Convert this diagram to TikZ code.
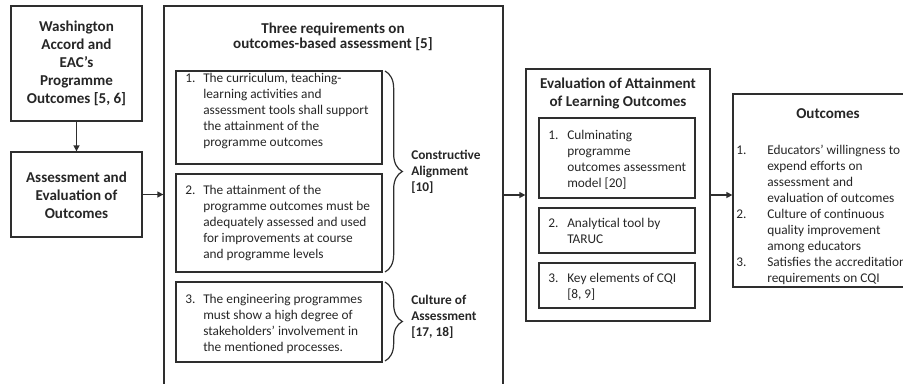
\documentclass[tikz,border=0pt]{standalone}
\usepackage{fontspec}
\setmainfont{Carlito}
\usetikzlibrary{arrows.meta,decorations.pathreplacing,fit}

\definecolor{ink}{gray}{0.15}
\definecolor{frame}{gray}{0.18}

% numbered list with a hanging indent: #1 = indent, #2 = rows "n. & text \\ & text ..."
\newcommand{\numlist}[2]{\begin{tabular}{@{}p{#1}@{}l@{}}#2\end{tabular}}
% stacked lines, centred or flush left
\newcommand{\clines}[1]{\begin{tabular}{@{}c@{}}#1\end{tabular}}
\newcommand{\llines}[1]{\begin{tabular}{@{}l@{}}#1\end{tabular}}

\tikzset{
  box/.style={draw=frame, line width=1pt, inner sep=0pt},
  body/.style={font=\fontsize{10}{12}\selectfont, text=ink, inner sep=0pt, anchor=north west},
  side/.style={font=\bfseries\fontsize{10}{12}\selectfont, text=ink, inner sep=0pt, anchor=north west},
  head/.style={font=\bfseries\fontsize{11.3}{13.5}\selectfont, text=ink, inner sep=0pt, anchor=north},
  flow/.style={draw=frame, line width=1.1pt, -{Triangle[length=4.5pt,width=4.5pt]}},
  curly/.style={draw=frame, line width=0.9pt, decorate, decoration={brace, amplitude=13pt}}
}

\begin{document}
\begin{tikzpicture}[x=0.75pt, y=-0.75pt]
\useasboundingbox (0,0) rectangle (903,383);
\clip (0,0) rectangle (903,383);

% left column
\node[box, fit={(11,6) (142,121)}] (wash) {};
\node[box, fit={(11,152) (142,237)}] (assess) {};
\node[head] (washT) at (76.5,19) {\clines{Washington\\Accord and\\EAC’s\\Programme\\Outcomes [5, 6]}};
\node[head] (assessT) at (76.5,169.4) {\clines{Assessment and\\Evaluation of\\Outcomes}};

% three requirements
\node[box, fit={(164,6) (503,400)}] (req) {};
\node[head, font=\bfseries\fontsize{11.3}{11.25}\selectfont] (reqT) at (333,22.5)
  {\clines{Three requirements on\\outcomes-based assessment [5]}};

\node[box, fit={(176,71) (382,164)}] (r1) {};
\node[box, fit={(176,174) (382,272)}] (r2) {};
\node[box, fit={(176,282) (382,362)}] (r3) {};

\node[body] (r1T) at (185,71) {\numlist{13.5pt}{1. & The curriculum, teaching-\\
  & learning activities and\\ & assessment tools shall support\\
  & the attainment of the\\ & programme outcomes}};
\node[body] (r2T) at (185,183) {\numlist{13.5pt}{2. & The attainment of the\\
  & programme outcomes must be\\ & adequately assessed and used\\
  & for improvements at course\\ & and programme levels}};
\node[body] (r3T) at (185,292) {\numlist{13.5pt}{3. & The engineering programmes\\
  & must show a high degree of\\ & stakeholders’ involvement in\\
  & the mentioned processes.}};

% braces and their labels
\coordinate (b1top) at (385,71);
\coordinate (b1bot) at (385,272);
\coordinate (b2top) at (385,282);
\coordinate (b2bot) at (385,361);
\draw[curly] (b1top) -- (b1bot);
\draw[curly] (b2top) -- (b2bot);
\node[side] (caT) at (411,148) {\llines{Constructive\\Alignment\\ {[10]}}};
\node[side] (coaT) at (411,293) {\llines{Culture of\\Assessment\\ {[17, 18]}}};

% evaluation of attainment
\node[box, fit={(526,69) (710,321)}] (eval) {};
\node[head] (evalT) at (618,75.4) {\clines{Evaluation of Attainment\\of Learning Outcomes}};
\node[box, fit={(539,118) (695,198)}] (e1) {};
\node[box, fit={(539,208) (695,253)}] (e2) {};
\node[box, fit={(539,263) (695,308)}] (e3) {};
\node[body] (e1T) at (548,128) {\numlist{14.25pt}{1. & Culminating\\ & programme\\
  & outcomes assessment\\ & model [20]}};
\node[body] (e2T) at (548,216) {\numlist{14.25pt}{2. & Analytical tool by\\ & TARUC}};
\node[body] (e3T) at (548,271) {\numlist{14.25pt}{3. & Key elements of CQI\\ & {[8, 9]}}};

% outcomes
\node[box, fit={(733,94) (920,287)}] (out) {};
\node[head, anchor=base] (outT) at (828,118) {Outcomes};
\node[body] (outL) at (736,143) {\numlist{23.25pt}{1. & Educators’ willingness to\\
  & expend efforts on\\ & assessment and\\ & evaluation of outcomes\\
  2. & Culture of continuous\\ & quality improvement\\ & among educators\\
  3. & Satisfies the accreditation\\ & requirements on CQI}};

% flow
\draw[flow] (wash.south) -- (assess.north);
\draw[flow] (assess.east) -- (assess.east -| req.west);
\draw[flow] (req.east |- eval.west) -- (eval.west);
\draw[flow] (eval.east) -- (eval.east -| out.west);
\end{tikzpicture}
\end{document}
